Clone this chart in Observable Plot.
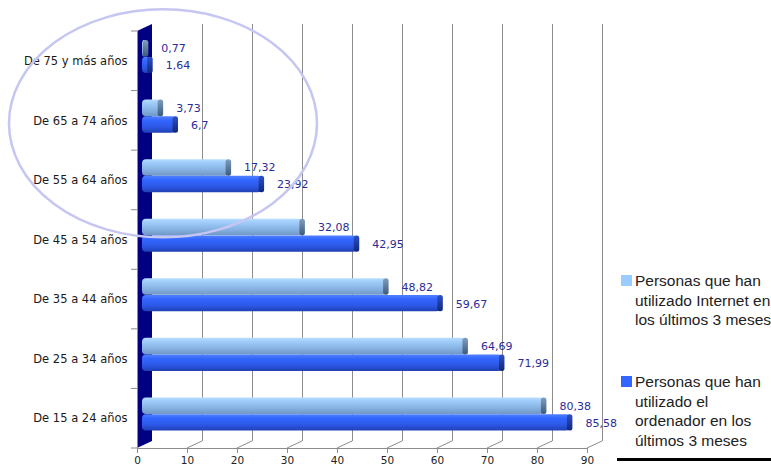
<!DOCTYPE html>
<html>
<head>
<meta charset="utf-8">
<script src="https://cdn.jsdelivr.net/npm/d3@7"></script>
<script src="https://cdn.jsdelivr.net/npm/@observablehq/plot@0.6"></script>
<style>
  html, body { margin: 0; padding: 0; background: #fff; overflow: hidden; width: 771px; height: 470px; }
  #grafico { position: relative; width: 771px; height: 470px; overflow: hidden; }
  .leyenda { position: absolute; left: 621px; font-family: "Liberation Sans", Arial, sans-serif; font-size: 15.5px; line-height: 19.5px; color: #222; white-space: nowrap; }
  .leyenda .cuadro { position: absolute; left: 0; top: 4px; width: 11px; height: 11px; }
  .leyenda .texto { position: absolute; left: 14px; top: 0; }
  #raya { position: absolute; left: 617px; top: 458px; width: 160px; height: 3px; background: #000; }
</style>
</head>
<body>
<div id="grafico"></div>
<script>
// Grupos de edad, de arriba abajo
const categorias = ["De 75 y más años", "De 65 a 74 años", "De 55 a 64 años", "De 45 a 54 años", "De 35 a 44 años", "De 25 a 34 años", "De 15 a 24 años"];
// % personas que han utilizado Internet en los últimos 3 meses
const internet = [0.77, 3.73, 17.32, 32.08, 48.82, 64.69, 80.38];
// % personas que han utilizado el ordenador en los últimos 3 meses
const ordenador = [1.64, 6.7, 23.92, 42.95, 59.67, 71.99, 85.58];
// Marcas del eje horizontal
const ticksX = [0, 10, 20, 30, 40, 50, 60, 70, 80, 90];
// Textos de la leyenda, una línea por elemento
const leyendaInternet = ["Personas que han", "utilizado Internet en", "los últimos 3 meses"];
const leyendaOrdenador = ["Personas que han", "utilizado el", "ordenador en los", "últimos 3 meses"];

const filasInternet = categorias.map((cat, i) => ({cat, v: internet[i]}));
const filasOrdenador = categorias.map((cat, i) => ({cat, v: ordenador[i]}));
const fmt = v => String(v).replace(".", ",");

// Desplazamiento de la perspectiva 3D (fondo respecto al frente)
const FONDO_DX = 15, FONDO_DY = -7;

function degradados() {
  const g = d3.create("svg:g");
  const defs = g.append("defs");
  const add = (id, stops) => {
    const lg = defs.append("linearGradient").attr("id", id)
      .attr("x1", 0).attr("y1", 0).attr("x2", 0).attr("y2", 1);
    stops.forEach(([o, c]) => lg.append("stop").attr("offset", o).attr("stop-color", c));
  };
  add("gInternet", [[0, "#b8deff"], [0.2, "#a0cdfa"], [0.55, "#8cb8e8"], [1, "#7097c6"]]);
  add("gOrdenador", [[0, "#5080ff"], [0.25, "#3366ff"], [0.65, "#2c58e6"], [1, "#2040b4"]]);
  add("gTapaInternet", [[0, "#7f9dbd"], [1, "#3d5a7a"]]);
  add("gTapaOrdenador", [[0, "#2c50c8"], [1, "#10287a"]]);
  return g.node();
}

// Líneas diagonales del suelo que unen el frente con el fondo
function suelo(index, scales, values, dim) {
  const x = scales.x, base = dim.height - dim.marginBottom;
  const g = d3.create("svg:g").attr("stroke", "#8c8c8c").attr("fill", "none");
  for (const t of ticksX.slice(1)) {
    g.append("line").attr("x1", x(t)).attr("y1", base)
      .attr("x2", x(t) + FONDO_DX).attr("y2", base + FONDO_DY);
  }
  return g.node();
}

// Pared lateral izquierda
function pared(index, scales, values, dim) {
  const x0 = scales.x(0), top = dim.marginTop, base = dim.height - dim.marginBottom;
  const pts = [[x0, top], [x0 + FONDO_DX, top + FONDO_DY], [x0 + FONDO_DX, base + FONDO_DY], [x0, base]];
  return d3.create("svg:polygon").attr("points", pts.join(" ")).attr("fill", "#000080").node();
}

// Marcas del eje vertical en los límites de cada grupo
function marcasY(index, scales, values, dim) {
  const x0 = scales.x(0);
  const bw = (dim.height - dim.marginTop - dim.marginBottom) / categorias.length;
  const g = d3.create("svg:g").attr("stroke", "#8c8c8c");
  const ys = categorias.map(c => scales.y(c));
  ys.push(ys[ys.length - 1] + bw);
  for (const y of ys) g.append("line").attr("x1", x0 - 6).attr("x2", x0).attr("y1", y).attr("y2", y);
  return g.node();
}

// Óvalo que resalta los grupos de más edad
function ovalo(index, scales, values, dim) {
  const bw = (dim.height - dim.marginTop - dim.marginBottom) / categorias.length;
  const cy = scales.y(categorias[1]) + bw / 2 + 3;
  return d3.create("svg:ellipse")
    .attr("cx", scales.x(0) + 26).attr("cy", cy).attr("rx", 154).attr("ry", 114)
    .attr("fill", "none").attr("stroke", "#c6c6f2").attr("stroke-width", 2.5).node();
}

const BAR_DX = 5;
const arriba = {insetTop: 9, insetBottom: 34};
const abajo = {insetTop: 25.7, insetBottom: 17.5};

const chart = Plot.plot({
  width: 771,
  height: 470,
  marginLeft: 137,
  marginRight: 184,
  marginTop: 31,
  marginBottom: 22,
  style: {fontFamily: "'DejaVu Sans', Verdana, sans-serif", fontSize: "11px", background: "transparent", overflow: "visible"},
  x: {domain: [0, 90], label: null},
  y: {domain: categorias, padding: 0, round: false, label: null},
  marks: [
    degradados,
    Plot.ruleX(ticksX.slice(1), {x: d => d, stroke: "#8c8c8c", strokeOpacity: 1, dx: FONDO_DX, dy: FONDO_DY}),
    suelo,
    pared,
    Plot.frame({anchor: "left", stroke: "#8c8c8c"}),
    Plot.frame({anchor: "bottom", stroke: "#8c8c8c"}),
    marcasY,
    // Barras
    Plot.barX(filasInternet, {y: "cat", x: "v", fill: "url(#gInternet)", rx: 4, dx: BAR_DX, ...arriba}),
    Plot.barX(filasOrdenador, {y: "cat", x: "v", fill: "url(#gOrdenador)", rx: 4, dx: BAR_DX, ...abajo}),
    // Tapas del extremo de cada cilindro
    Plot.barX(filasInternet, {y: "cat", x1: "v", x2: "v", insetLeft: -3, insetRight: -2.5, rx: 2.5, fill: "url(#gTapaInternet)", dx: BAR_DX, ...arriba}),
    Plot.barX(filasOrdenador, {y: "cat", x1: "v", x2: "v", insetLeft: -3, insetRight: -2.5, rx: 2.5, fill: "url(#gTapaOrdenador)", dx: BAR_DX, ...abajo}),
    // Etiquetas de valor
    Plot.text(filasInternet, {y: "cat", x: "v", text: d => fmt(d.v), textAnchor: "start", dx: 20, dy: -12.5, fill: "#2b2b99", fontSize: 11}),
    Plot.text(filasOrdenador, {y: "cat", x: "v", text: d => fmt(d.v), textAnchor: "start", dx: 20, dy: 4.5, fill: "#2b2b99", fontSize: 11}),
    Plot.axisX({ticks: ticksX, tickSize: 5, tickPadding: 3, label: null, stroke: "#8c8c8c", fill: "#222", fontSize: 10.5}),
    Plot.axisY({tickSize: 0, tickPadding: 10, label: null, fill: "#1a1a1a", fontSize: 11.5}),
    ovalo
  ]
});

const cont = document.getElementById("grafico");
cont.appendChild(chart);

// Leyenda a la derecha
const entradas = [
  {lineas: leyendaInternet, color: "#99ccff", top: 271},
  {lineas: leyendaOrdenador, color: "#3366ff", top: 372}
];
for (const e of entradas) {
  const d = document.createElement("div");
  d.className = "leyenda";
  d.style.top = e.top + "px";
  const c = document.createElement("div");
  c.className = "cuadro";
  c.style.background = e.color;
  const t = document.createElement("div");
  t.className = "texto";
  t.innerHTML = e.lineas.join("<br>");
  d.appendChild(c);
  d.appendChild(t);
  cont.appendChild(d);
}
const raya = document.createElement("div");
raya.id = "raya";
cont.appendChild(raya);
</script>
</body>
</html>
